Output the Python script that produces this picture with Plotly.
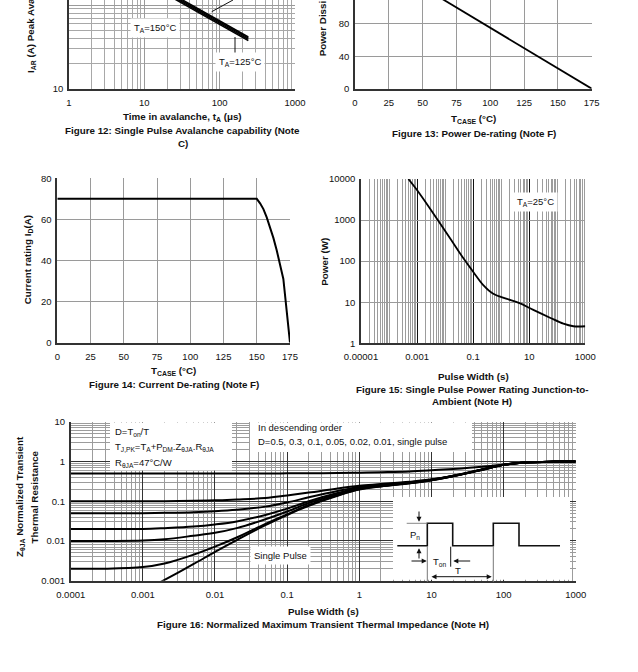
import plotly.graph_objects as go

W, H = 638, 672
FONT = "Liberation Sans, Arial, sans-serif"
INK = "#111111"

# ---------------- data ----------------
# Figure 12: single pulse avalanche capability
aval_t_us = [20, 240]
aval_I_25C = [146, 41.6]
aval_I_100C = [141.5, 40.3]
aval_I_125C = [137, 39.0]
aval_I_150C = [132.5, 37.7]

# Figure 13: power de-rating
pd_tcase = [25, 175]
pd_power = [150, 0]

# Figure 14: current de-rating
id_tcase = [0, 150, 152.5, 155, 157.5, 160, 162.5, 165, 167.5, 170, 175]
id_current = [70, 70, 67.8, 65, 61, 56.5, 51, 45, 38.5, 31, 0]

# Figure 15: single pulse power rating junction-to-ambient
spp_width = [4.9e-4, 1.1e-3, 3.8e-3, 0.015, 0.045, 0.1, 0.23, 0.52, 1.5, 4.5, 14, 55, 165, 375, 1000]
spp_power = [10000, 4900, 1450, 360, 117, 55, 26, 16, 12.2, 9.5, 6.5, 4.2, 3.0, 2.6, 2.6]

# Figure 16: normalized transient thermal impedance
zt_width = [1e-4, 3e-4, 1e-3, 2e-3, 5e-3, 1e-2, 2e-2, 5e-2, 0.1, 0.2, 0.5, 1, 2, 5, 10, 20, 50, 100, 200, 500, 1000]
zt_D05 = [0.5, 0.5, 0.5, 0.5, 0.5, 0.5, 0.5, 0.5, 0.502, 0.505, 0.51, 0.52, 0.535, 0.56, 0.6, 0.65, 0.74, 0.84, 0.94, 0.99, 1.0]
zt_D01 = [0.1, 0.1, 0.1, 0.1, 0.102, 0.105, 0.11, 0.12, 0.14, 0.165, 0.21, 0.245, 0.27, 0.31, 0.355, 0.44, 0.63, 0.83, 0.94, 0.99, 1.0]
zt_D005 = [0.05, 0.05, 0.05, 0.051, 0.053, 0.056, 0.061, 0.073, 0.093, 0.125, 0.18, 0.228, 0.258, 0.3, 0.348, 0.435, 0.625, 0.825, 0.94, 0.99, 1.0]
zt_D002 = [0.02, 0.02, 0.02, 0.021, 0.023, 0.026, 0.031, 0.045, 0.065, 0.1, 0.16, 0.214, 0.248, 0.292, 0.343, 0.43, 0.62, 0.82, 0.94, 0.99, 1.0]
zt_D001 = [0.01, 0.01, 0.0102, 0.011, 0.0135, 0.016, 0.021, 0.035, 0.055, 0.09, 0.15, 0.208, 0.243, 0.288, 0.34, 0.428, 0.618, 0.82, 0.94, 0.99, 1.0]
zt_Dlow = [0.002, 0.002, 0.0022, 0.0027, 0.0045, 0.0072, 0.0122, 0.027, 0.047, 0.08, 0.14, 0.2, 0.238, 0.284, 0.337, 0.425, 0.615, 0.82, 0.94, 0.99, 1.0]
sp_width = [1e-3, 2e-3, 5e-3, 1e-2, 2e-2, 5e-2, 0.1, 0.2, 0.5, 1, 2, 5, 10, 20, 50, 100, 200, 500, 1000]
sp_z = [0.00053, 0.00105, 0.0026, 0.0053, 0.0105, 0.025, 0.045, 0.077, 0.137, 0.196, 0.235, 0.282, 0.335, 0.423, 0.613, 0.82, 0.94, 0.99, 1.0]

# tick labels
f12_xticks = [1, 10, 100, 1000]
f12_yticks = [10, 100]
f13_xticks = [0, 25, 50, 75, 100, 125, 150, 175]
f13_yticks = [0, 40, 80]
f14_xticks = [0, 25, 50, 75, 100, 125, 150, 175]
f14_yticks = [0, 20, 40, 60, 80]
f15_xticks = [1e-5, 1e-3, 0.1, 10, 1000]
f15_xlabels = ["0.00001", "0.001", "0.1", "10", "1000"]
f15_yticks = [1, 10, 100, 1000, 10000]
f16_xticks = [1e-4, 1e-3, 1e-2, 0.1, 1, 10, 100, 1000]
f16_xlabels = ["0.0001", "0.001", "0.01", "0.1", "1", "10", "100", "1000"]
f16_yticks = [0.001, 0.01, 0.1, 1, 10]
f16_ylabels = ["0.001", "0.01", "0.1", "1", "10"]


# ---------------- helpers ----------------
def px(x):
    return x / W


def py(y):
    return 1 - y / H


def log_minors(lo, hi, exclude=()):
    vals = []
    for k in range(lo, hi + 1):
        for d in range(1, 10):
            v = d * 10.0 ** k
            if v > 10.0 ** hi * 1.0001:
                continue
            if any(abs(v - e) / e < 1e-6 for e in exclude):
                continue
            vals.append(v)
    return vals


TICKFONT = dict(family=FONT, size=9.5, color=INK)


def axis(dom, rng, typ="linear", tickvals=None, ticktext=None, grid="#9a9a9a",
         minor_vals=None, minor_grid="#a8a8a8", anchor=None, side="x"):
    d = dict(domain=dom, range=rng, type=typ, showline=True, linecolor="#333333",
             linewidth=1.5, zeroline=False, showgrid=True, gridcolor=grid, gridwidth=1,
             ticks="", tickfont=TICKFONT, tickmode="array", tickvals=tickvals,
             ticktext=ticktext if ticktext else [str(v) for v in tickvals],
             anchor=anchor, fixedrange=True, automargin=False,
             ticklabelstandoff=2 if side == "y" else 4)
    if minor_vals is not None:
        d["minor"] = dict(tickmode="array", tickvals=minor_vals, showgrid=True,
                          gridcolor=minor_grid, gridwidth=1, ticks="")
    return d


fig = go.Figure()

# Fig 12
for ys in (aval_I_25C, aval_I_100C, aval_I_125C, aval_I_150C):
    fig.add_trace(go.Scatter(x=aval_t_us, y=ys, mode="lines", line=dict(color="black", width=1.5),
                             xaxis="x", yaxis="y", hoverinfo="skip"))
# Fig 13
fig.add_trace(go.Scatter(x=pd_tcase, y=pd_power, mode="lines", line=dict(color="black", width=1.8),
                         xaxis="x2", yaxis="y2", hoverinfo="skip"))
# Fig 14
fig.add_trace(go.Scatter(x=id_tcase, y=id_current, mode="lines", line=dict(color="black", width=2),
                         xaxis="x3", yaxis="y3", hoverinfo="skip"))
# Fig 15
fig.add_trace(go.Scatter(x=spp_width, y=spp_power, mode="lines", line=dict(color="black", width=1.8),
                         line_shape="spline", xaxis="x4", yaxis="y4", hoverinfo="skip"))
# Fig 16
for ys in (zt_D05, zt_D01, zt_D005, zt_D002, zt_D001, zt_Dlow):
    fig.add_trace(go.Scatter(x=zt_width, y=ys, mode="lines", line=dict(color="black", width=2),
                             line_shape="spline", xaxis="x5", yaxis="y5", hoverinfo="skip"))
fig.add_trace(go.Scatter(x=sp_width, y=sp_z, mode="lines", line=dict(color="black", width=2),
                         line_shape="spline", xaxis="x5", yaxis="y5", hoverinfo="skip"))

# ---------------- axes ----------------
lay = {}
lay["xaxis"] = axis([px(69), px(295)], [0, 3], "log", f12_xticks, grid="#9a9a9a",
                    minor_vals=log_minors(0, 3, f12_xticks), anchor="y")
lay["yaxis"] = axis([py(89), 1], [1, 2.0595], "log", f12_yticks, grid="#9a9a9a",
                    minor_vals=log_minors(1, 2, f12_yticks), anchor="x", side="y")
lay["xaxis2"] = axis([px(355), px(591.7)], [0, 175], "linear", f13_xticks, anchor="y2")
lay["yaxis2"] = axis([py(88.7), 1], [0, 109.2], "linear", f13_yticks + [120], anchor="x2", side="y")
lay["xaxis3"] = axis([px(57.3), px(290)], [0, 175], "linear", f14_xticks, anchor="y3")
lay["yaxis3"] = axis([py(342.7), py(178.3)], [0, 80], "linear", f14_yticks, anchor="x3", side="y")
lay["xaxis4"] = axis([px(361), px(585.3)], [-5, 3], "log", f15_xticks, f15_xlabels, grid="#111111",
                     minor_vals=log_minors(-5, 3, f15_xticks), minor_grid="#9c9c9c", anchor="y4")
lay["yaxis4"] = axis([py(343.3), py(179)], [0, 4], "log", f15_yticks, grid="#9a9a9a", anchor="x4", side="y")
lay["xaxis5"] = axis([px(70.7), px(575.7)], [-4, 3], "log", f16_xticks, f16_xlabels, grid="#333333",
                     minor_vals=log_minors(-4, 3, f16_xticks), minor_grid="#9c9c9c", anchor="y5")
lay["yaxis5"] = axis([py(580.7), py(421.7)], [-3, 1], "log", f16_yticks, f16_ylabels, grid="#333333",
                     minor_vals=log_minors(-3, 1, f16_yticks), minor_grid="#9c9c9c", anchor="x5", side="y")

# ---------------- shapes ----------------
shapes = []


def box(x0, y0, x1, y1):
    shapes.append(dict(type="rect", xref="paper", yref="paper", x0=px(x0), x1=px(x1),
                       y0=py(y1), y1=py(y0), fillcolor="white", line=dict(width=0), layer="above"))


def seg(x0, y0, x1, y1, color=INK, w=1):
    shapes.append(dict(type="line", xref="paper", yref="paper", x0=px(x0), y0=py(y0),
                       x1=px(x1), y1=py(y1), line=dict(color=color, width=w), layer="above"))


# Fig 16 text boxes and inset (white panels over the grid)
box(110, 422.6, 232, 470.5)
box(250, 422.6, 472, 452)
box(393, 497, 570, 579.8)

# waveform of the inset
wave = [(397.3, 545.7), (427.3, 545.7), (427.3, 523.3), (452.7, 523.3), (452.7, 545.7),
        (493.3, 545.7), (493.3, 523.3), (519, 523.3), (519, 545.7), (560, 545.7)]
path = "M " + " L ".join("%.5f %.5f" % (px(x), py(y)) for x, y in wave)
shapes.append(dict(type="path", xref="paper", yref="paper", path=path,
                   line=dict(color=INK, width=1.6), layer="above"))
seg(406.7, 523.3, 427.3, 523.3, color="#888888")
seg(450.7, 546.7, 450.7, 566.7, color=INK)
seg(427.3, 546.5, 427.3, 582, color="#777777")
seg(493.3, 546.5, 493.3, 582, color="#777777")

# Fig 12 leader lines
seg(211.7, 11.7, 233, 0, color=INK)
seg(235, 37, 235, 57, color=INK)

# ---------------- annotations ----------------
anns = []


def text(x, y, s, size=9.5, bold=False, xanchor="center", yanchor="middle", angle=0, bg=None):
    a = dict(x=px(x), y=py(y), xref="paper", yref="paper",
             text=("<b>%s</b>" % s) if bold else s, showarrow=False,
             xanchor=xanchor, yanchor=yanchor, textangle=angle,
             font=dict(family=FONT, size=size, color=INK))
    if bg:
        a["bgcolor"] = bg
        a["borderpad"] = 3
    anns.append(a)


def arrow(x0, y0, x1, y1, both=False):
    anns.append(dict(x=px(x1), y=py(y1), xref="paper", yref="paper", ax=x0 - x1, ay=y0 - y1,
                     axref="pixel", ayref="pixel", showarrow=True, text="", arrowhead=2,
                     arrowsize=1, arrowwidth=1, arrowcolor=INK, standoff=0, startstandoff=0,
                     arrowside="end+start" if both else "end", startarrowhead=2))


TS = 9.8  # bold title size

# Fig 12
text(31, 75, "I<sub>AR</sub> (A) Peak Avalanche Current", size=TS, bold=True, angle=-90, yanchor="bottom")
text(182.5, 117, "Time in avalanche, t<sub>A</sub> (μs)", size=TS, bold=True)
text(182.5, 130.7, "Figure 12: Single Pulse Avalanche capability (Note", size=TS, bold=True)
text(182.5, 143, "C)", size=TS, bold=True)
text(155, 28, "T<sub>A</sub>=150°C", bg="white")
text(240, 62, "T<sub>A</sub>=125°C", bg="white")

# Fig 13
text(322.5, 58.3, "Power Dissipation (W)", size=TS, bold=True, angle=-90, yanchor="bottom")
text(473.3, 118.7, "T<sub>CASE</sub> (°C)", size=TS, bold=True)
text(473.5, 133.3, "Figure 13: Power De-rating (Note F)", size=TS, bold=True)

# Fig 14
text(28.3, 260, "Current rating I<sub>D</sub>(A)", size=TS, bold=True, angle=-90)
text(173.5, 371, "T<sub>CASE</sub> (°C)", size=TS, bold=True)
text(174, 384, "Figure 14: Current De-rating (Note F)", size=TS, bold=True)

# Fig 15
text(325, 261.7, "Power (W)", size=TS, bold=True, angle=-90)
text(473.3, 376, "Pulse Width (s)", size=TS, bold=True)
text(472.5, 389.3, "Figure 15: Single Pulse Power Rating Junction-to-", size=TS, bold=True)
text(472.5, 401.7, "Ambient (Note H)", size=TS, bold=True)
text(535, 201.7, "T<sub>A</sub>=25°C", bg="white")

# Fig 16
text(20, 497, "Z<sub>θJA</sub> Normalized Transient", size=TS, bold=True, angle=-90)
text(33.5, 497, "Thermal Resistance", size=TS, bold=True, angle=-90)
text(323, 611.7, "Pulse Width (s)", size=TS, bold=True)
text(323, 624, "Figure 16: Normalized Maximum Transient Thermal Impedance (Note H)", size=TS, bold=True)
text(113.3, 431.7, "D=T<sub>on</sub>/T", xanchor="left")
text(113.3, 446.7, "T<sub>J,PK</sub>=T<sub>A</sub>+P<sub>DM</sub>.Z<sub>θJA</sub>.R<sub>θJA</sub>", xanchor="left")
text(113.3, 463.3, "R<sub>θJA</sub>=47°C/W", xanchor="left")
text(256, 427.3, "In descending order", xanchor="left")
text(256, 441.7, "D=0.5, 0.3, 0.1, 0.05, 0.02, 0.01, single pulse", xanchor="left")
text(280, 555, "Single Pulse", bg="white")

# inset labels and arrows
text(414.5, 535, "P<sub>n</sub>")
text(440, 562.3, "T<sub>on</sub>")
text(458, 570.5, "T")
arrow(419, 510, 419, 521.7)
arrow(419, 560, 419, 548.3)
arrow(410, 561, 426.7, 561)
arrow(471.7, 561, 453.3, 561)
arrow(430, 576.7, 491.7, 576.7, both=True)

fig.update_layout(
    width=W, height=H, autosize=False,
    margin=dict(l=0, r=0, t=0, b=0, pad=0, autoexpand=False),
    paper_bgcolor="white", plot_bgcolor="white", showlegend=False,
    shapes=shapes, annotations=anns, **lay,
)

fig.write_html("out.html", config={"displayModeBar": False, "responsive": False},
               post_script="document.body.style.margin='0';document.body.style.padding='0';")
